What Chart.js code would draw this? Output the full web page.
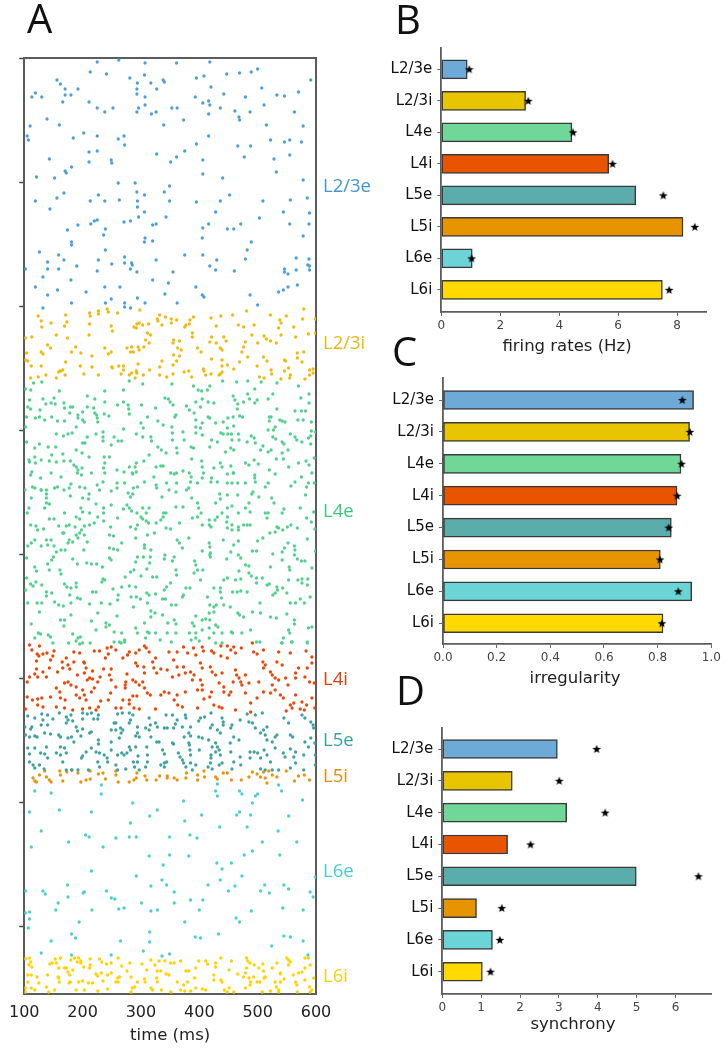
<!DOCTYPE html>
<html>
<head>
<meta charset="utf-8">
<title>Microcircuit activity</title>
<script src="https://cdn.jsdelivr.net/npm/chart.js@4/dist/chart.umd.js"></script>
<style>
  html, body { margin: 0; padding: 0; background: #fff; }
  #page { position: relative; width: 727px; height: 1050px; overflow: hidden; }
  canvas { position: absolute; }
  .letter { position: absolute; font: 40px "Open Sans", sans-serif; color: #111; line-height: 40px; }
  .xname { position: absolute; font: 16.5px "DejaVu Sans", sans-serif; color: #222; transform: translate(-50%, -50%); white-space: nowrap; }
</style>
</head>
<body>
<div id="page">
  <canvas id="raster"></canvas>
  <canvas id="rates"></canvas>
  <canvas id="irreg"></canvas>
  <canvas id="sync"></canvas>
  <div class="letter" style="left:27px;top:-2px">A</div>
  <div class="letter" style="left:395px;top:-1px">B</div>
  <div class="letter" style="left:392px;top:331px">C</div>
  <div class="letter" style="left:396px;top:670px">D</div>
  <div class="xname" style="left:567px;top:345px">firing rates (Hz)</div>
  <div class="xname" style="left:575px;top:677px">irregularity</div>
  <div class="xname" style="left:573px;top:1023px">synchrony</div>
</div>
<script>
const layers = ['L2/3e', 'L2/3i', 'L4e', 'L4i', 'L5e', 'L5i', 'L6e', 'L6i']

const firingRates = [0.88, 2.86, 4.43, 5.68, 6.6, 8.2, 1.05, 7.5]
const firingStars = [0.95, 2.95, 4.47, 5.81, 7.53, 8.6, 1.03, 7.73]
const irregularity = [0.934, 0.919, 0.887, 0.872, 0.851, 0.81, 0.927, 0.82]
const irregularityStars = [0.892, 0.92, 0.889, 0.873, 0.841, 0.809, 0.877, 0.816]
const synchrony = [2.96, 1.8, 3.2, 1.68, 4.99, 0.88, 1.29, 1.03]
const synchronyStars = [3.97, 3.01, 4.19, 2.27, 6.59, 1.53, 1.48, 1.24]

const firingTicks = [0, 2, 4, 6, 8]
const irregularityTicks = [0, 0.2, 0.4, 0.6, 0.8, 1]
const synchronyTicks = [0, 1, 2, 3, 4, 5, 6]
const timeTicks = [100, 200, 300, 400, 500, 600]
const rowTicks = [0, 124, 248, 372, 496, 620, 744, 868]
const layerLabelRows = [129, 286, 454, 622, 683, 719, 814, 919]

const dotColors = ['#4d9fd8', '#eebb0c', '#52d08e', '#e9480a', '#3fa2a2', '#e9940c', '#4ccfd3', '#ffd200']
const labelColors = ['#3f97d3', '#e8b90f', '#38c97f', '#e63d07', '#3a9fa2', '#e88a0c', '#48cdd2', '#f7cf12']
const barColors = ['#6daad8', '#e8c500', '#6fd798', '#e85400', '#5badab', '#e69500', '#6bd4d7', '#ffd900']

// raster: time (ms), row pairs, one list per population
const spikesL23e = [225,4, 262,2, 307,5, 361,5, 418,4, 213,14, 241,16, 447,16, 469,15, 489,14, 500,11, 306,17, 281,20, 395,20, 408,18, 156,22, 162,26, 294,25, 317,25, 338,22, 340,24, 591,22, 170,31, 192,31, 293,31, 327,31, 420,29, 507,30, 119,35, 113,39, 130,39, 170,37, 180,37, 293,36, 307,39, 393,39, 442,36, 479,39, 533,37, 546,38, 570,34, 166,44, 211,44, 307,47, 406,45, 416,43, 418,47, 511,47, 225,50, 252,50, 296,50, 353,50, 362,50, 436,50, 238,54, 293,54, 318,56, 326,54, 416,56, 461,53, 487,54, 563,54, 468,59, 469,62, 139,61, 373,62, 110,68, 160,67, 339,67, 515,67, 578,68, 202,75, 105,78, 107,82, 184,80, 225,78, 261,81, 271,78, 416,78, 522,82, 555,82, 546,84, 575,84, 272,87, 395,86, 466,88, 488,88, 211,94, 225,93, 375,93, 327,96, 555,97, 143,101, 249,102, 250,105, 211,104, 361,99, 351,104, 406,102, 477,99, 528,101, 181,109, 170,113, 172,115, 532,114, 406,116, 121,119, 152,120, 440,120, 261,125, 290,125, 578,122, 349,128, 293,134, 340,134, 168,135, 227,137, 306,137, 452,137, 156,140, 119,143, 213,143, 238,143, 263,142, 294,143, 349,143, 395,144, 436,143, 509,143, 556,142, 585,140, 294,149, 144,151, 306,154, 428,154, 544,154, 589,155, 296,159, 343,159, 503,160, 225,162, 220,163, 214,166, 192,167, 271,164, 282,163, 320,167, 326,166, 416,166, 471,166, 555,166, 588,166, 406,170, 239,171, 174,172, 448,171, 459,171, 236,177, 307,180, 306,184, 320,183, 405,180, 578,178, 181,184, 181,187, 489,184, 239,192, 126,194, 482,192, 375,197, 406,197, 159,197, 272,199, 479,201, 566,200, 588,201, 140,204, 168,202, 227,202, 326,202, 430,202, 272,205, 284,205, 285,207, 250,206, 190,208, 418,208, 586,207, 589,208, 102,211, 140,211, 159,211, 282,211, 428,212, 546,211, 566,212, 589,212, 225,213, 293,214, 355,214, 460,213, 546,214, 552,216, 132,219, 180,222, 320,222, 347,225, 119,229, 238,229, 264,229, 394,229, 552,229, 568,227, 157,232, 206,234, 544,232, 536,234, 140,237, 341,236, 405,237, 408,239, 487,237, 249,241, 294,240, 239,245, 307,245, 362,245, 181,245, 272,245, 500,247, 132,250, 272,249, 282,250]

const spikesL23i = [124,258, 129,263, 130,269, 146,265, 171,257, 173,264, 169,268, 212,255, 213,258, 212,266, 227,253, 227,256, 242,251, 244,254, 260,255, 298,252, 249,268, 251,273, 211,277, 155,277, 174,280, 113,279, 102,280, 293,266, 297,265, 288,269, 292,270, 303,267, 313,266, 311,275, 316,277, 308,282, 314,285, 328,261, 332,257, 329,263, 342,259, 336,267, 352,261, 361,262, 352,265, 390,259, 384,262, 383,266, 377,267, 375,269, 388,275, 388,279, 420,260, 437,258, 429,268, 457,257, 481,253, 467,267, 476,269, 494,267, 522,257, 549,258, 538,262, 540,265, 536,270, 562,269, 577,261, 579,251, 599,261, 540,277, 565,279, 587,276, 599,275, 490,277, 511,278, 515,281, 522,283, 532,285, 500,285, 479,284, 476,289, 473,294, 446,283, 442,279, 429,285, 418,284, 421,279, 436,290, 439,292, 397,290, 403,294, 366,283, 356,282, 355,285, 363,290, 369,292, 356,297, 366,298, 361,303, 336,303, 140,287, 145,290, 129,294, 132,296, 188,289, 181,294, 197,295, 238,290, 249,294, 244,296, 216,298, 276,290, 284,289, 295,289, 305,289, 297,292, 282,294, 287,294, 102,302, 104,295, 106,303, 129,308, 112,308, 171,304, 196,308, 216,309, 250,309, 251,310, 262,308, 270,308, 295,306, 332,309, 355,307, 421,301, 439,302, 448,307, 439,308, 469,304, 483,299, 510,299, 516,303, 499,308, 546,302, 548,303, 576,304, 568,295, 568,300, 579,294, 459,311, 407,311, 408,313, 382,313, 374,314, 355,316, 344,319, 315,312, 304,317, 292,313, 293,315, 284,315, 280,317, 290,320, 270,312, 266,316, 202,316, 227,317, 166,312, 162,313, 159,314, 155,320, 170,317, 137,317, 124,319, 111,320, 332,317, 387,319, 411,317, 420,316, 436,316, 439,314, 434,317, 523,312, 524,316, 546,313, 553,310, 556,317, 555,320, 540,321, 503,319, 511,320, 581,321, 589,317, 589,312, 595,311, 595,315]

const spikesL4e = [116,325, 130,324, 102,331, 111,332, 160,333, 238,333, 270,332, 280,323, 303,326, 353,326, 390,328, 398,332, 404,333, 414,332, 418,328, 440,323, 464,324, 483,323, 506,324, 495,331, 533,325, 570,328,
208,338, 221,341, 109,342, 106,349, 132,341, 151,340, 146,345, 153,346, 168,345, 169,350, 137,346, 127,352, 111,351, 179,349, 183,349, 208,349, 200,354, 192,357, 219,350, 221,355, 224,357, 260,347, 270,344, 278,347, 279,351, 280,356, 238,344, 301,347, 325,350, 341,340, 347,341, 350,344, 355,347, 378,348, 383,352, 394,344, 402,349, 405,341, 415,344, 425,345, 458,338, 461,342, 466,346, 465,351, 476,344, 483,336, 486,341, 499,342, 495,345, 518,341, 526,336, 533,351, 574,340, 588,336, 588,345, 582,353, 575,353, 564,353,
104,359, 102,369, 119,360, 126,359, 135,362, 147,359, 157,363, 178,355, 169,363, 192,360, 200,362, 189,369, 203,364, 237,356, 245,358, 225,360, 226,364, 270,371, 311,359, 300,365, 304,370, 329,363, 338,367, 358,359, 360,357, 353,369, 391,355, 394,362, 394,369, 402,370, 405,365, 415,359, 418,360, 428,365, 441,364, 449,360, 458,359, 469,358, 474,359, 459,368, 448,370, 520,359, 523,359, 520,363, 538,362, 542,363, 547,364, 530,369, 527,372, 518,372, 569,362, 578,362, 592,364, 592,373, 599,374,
104,384, 118,390, 126,386, 141,389, 154,389, 155,376, 167,378, 175,376, 182,375, 200,385, 204,385, 208,379, 223,376, 235,374, 235,379, 235,383, 254,379, 261,383, 267,383, 249,387, 292,376, 303,379, 317,379, 318,383, 329,389, 335,392, 343,395, 354,375, 354,382, 361,390, 362,395, 372,374, 374,382, 386,389, 390,390, 394,375, 405,377, 418,389, 421,382, 431,384, 437,375, 441,376, 449,376, 455,376, 467,376, 456,382, 454,390, 445,394, 459,392, 468,382, 482,384, 489,378, 494,380, 496,385, 509,388, 505,392, 518,394, 523,392, 526,379, 531,381, 542,384, 545,386, 556,376, 564,379, 567,382, 576,384, 587,380, 591,378, 591,386, 552,392, 542,395,
108,402, 109,404, 118,399, 129,402, 119,405, 143,403, 147,397, 155,404, 166,396, 168,403, 179,403, 189,392, 199,395, 211,399, 185,407, 189,409, 192,412, 199,410, 237,399, 246,399, 238,405, 236,410, 238,415, 259,412, 280,409, 292,405, 290,409, 285,415, 305,403, 314,397, 326,409, 334,408, 338,408, 351,415, 357,416, 361,415, 372,413, 383,415, 386,419, 387,401, 404,403, 405,409, 407,415, 425,410, 436,405, 439,409, 454,408, 458,415, 479,405, 485,407, 494,402, 501,406, 495,417, 495,420, 520,412, 530,416, 532,401, 544,401, 553,409, 570,405, 583,403, 588,407, 575,419, 597,400, 593,415, 113,414, 111,417, 128,420, 146,415, 163,419, 191,415, 198,417, 215,415, 271,414, 286,416, 292,414, 322,419, 405,420, 421,420, 448,416, 459,415,
114,429, 118,430, 129,432, 138,432, 152,430, 157,429, 180,426, 177,430, 195,429, 204,430, 225,427, 235,424, 259,430, 259,425, 272,425, 286,436, 287,430, 294,429, 306,424, 326,427, 327,430, 344,425, 361,425, 382,430, 385,424, 397,425, 420,424, 431,424, 448,425, 456,425, 466,425, 479,425, 496,424, 513,429, 518,425, 557,428, 564,424, 584,429, 587,425, 597,425, 101,432,
129,432, 138,436, 138,440, 179,438, 200,440, 211,436, 210,441, 112,440, 168,432, 229,432, 249,433, 278,435, 282,439, 336,439, 348,432, 360,434, 378,432, 387,440, 435,436, 436,441, 448,437, 466,437, 492,434, 502,439, 490,436, 524,440, 582,437,
138,445, 143,446, 135,450, 108,450, 105,455, 169,455, 197,450, 200,454, 223,446, 212,455, 236,450, 236,455, 249,447, 270,451, 276,447, 280,450, 284,453, 293,455, 303,450, 314,450, 309,455, 343,455, 360,449, 372,449, 397,445, 399,450, 403,455, 428,445, 448,450, 456,448, 485,445, 479,450, 467,455, 487,454, 528,445, 513,455, 518,455, 545,451, 542,455, 573,450, 596,454,
189,459, 195,461, 143,461, 151,461, 111,467, 120,468, 123,472, 133,471, 159,468, 172,468, 177,467, 168,475, 187,469, 203,468, 212,467, 220,465, 226,459, 236,463, 248,469, 260,460, 300,459, 303,461, 309,463, 313,465, 326,465, 334,462, 338,459, 339,455, 294,467, 282,469, 291,471, 343,470, 351,471, 366,465, 388,460, 397,459, 405,467, 417,462, 417,467, 420,469, 427,462, 431,459, 439,455, 448,459, 447,464, 456,467, 467,469, 476,467, 482,467, 487,467, 467,472, 456,472, 448,470, 516,460, 530,474, 536,470, 543,472, 551,469, 557,467, 568,470, 584,460, 592,464, 598,471,
198,472, 195,475, 189,477, 177,482, 183,484, 175,485, 166,475, 112,485, 106,488, 118,482, 129,488, 138,482, 146,482, 140,487, 151,488, 155,494, 163,492, 170,492, 192,480, 203,477, 208,484, 202,492, 246,477, 253,478, 246,490, 253,491, 260,492, 267,485, 291,480, 306,487, 311,477, 323,475, 306,490, 317,492, 362,482, 366,485, 371,490, 382,480, 417,485, 418,489, 405,493, 419,495, 441,482, 467,483, 500,483, 509,480, 521,475, 533,469, 552,485, 546,490, 542,494, 563,488, 564,492, 459,487, 454,494, 585,481, 599,493, 491,493, 498,493,
104,500, 150,499, 147,502, 140,506, 118,509, 121,513, 161,512, 163,516, 183,501, 191,506, 207,505, 215,506, 224,506, 246,500, 249,502, 234,509, 294,499, 291,504, 304,499, 315,505, 316,499, 341,497, 340,501, 357,499, 354,503, 392,503, 394,507, 397,512, 406,512, 418,497, 419,499, 447,501, 467,497, 471,500, 479,507, 485,508, 526,496, 542,502, 554,509, 555,512, 563,497, 568,501, 575,503, 581,503, 522,509, 593,510, 288,512, 310,511,
104,520, 111,526, 115,528, 120,524, 130,527, 143,512, 169,526, 173,529, 180,530, 189,525, 189,529, 235,521, 238,522, 233,524, 217,534, 223,534, 252,531, 273,519, 267,529, 280,528, 291,529, 282,514, 300,518, 320,519, 327,519, 351,525, 344,529, 340,532, 361,517, 377,530, 384,530, 402,522, 391,515, 425,530, 436,530, 442,522, 448,520, 462,522, 471,521, 468,513, 485,515, 489,518, 498,520, 498,525, 508,520, 516,527, 520,526, 533,529, 543,530, 553,522, 569,522, 576,521, 576,525, 586,521, 585,527, 102,532, 360,512,
138,534, 138,538, 147,535, 178,537, 191,540, 196,541, 106,545, 122,545, 130,545, 152,544, 159,547, 167,548, 180,545, 212,546, 232,545, 247,546, 261,537, 260,542, 283,539, 292,539, 287,549, 299,541, 310,535, 314,537, 311,545, 325,536, 337,541, 342,541, 352,547, 360,547, 371,539, 373,537, 414,539, 418,547, 425,549, 429,547, 436,534, 438,540, 457,534, 465,534, 471,533, 482,534, 453,549, 442,547, 504,545, 534,532, 530,535, 526,537, 573,541, 590,539, 556,545, 565,545, 580,545, 550,535,
126,554, 112,566, 162,562, 169,562, 168,568, 180,557, 215,563, 226,555, 240,565, 246,567, 259,558, 317,553, 324,555, 317,559, 337,557, 346,565, 291,570, 306,565, 357,562, 360,566, 394,558, 388,565, 391,568, 405,562, 411,561, 417,555, 418,562, 428,567, 432,569, 425,554, 466,555, 469,557, 476,559, 491,554, 505,555, 522,559, 532,560, 550,556, 563,562, 563,566, 593,569, 587,570,
124,575, 128,576, 118,580, 141,577, 145,579, 183,576, 196,579, 192,580, 189,583, 223,572, 240,569, 254,574, 267,575, 263,584, 272,582, 294,575, 311,574, 314,575, 308,580, 325,575, 333,582, 345,575, 352,584, 360,575, 383,575, 386,582, 394,580, 405,572, 417,570, 425,575, 417,580, 439,575, 455,574, 457,575, 488,572, 473,575, 553,572, 555,575, 544,580, 542,585, 559,584, 149,585, 195,586, 213,585, 254,584, 428,585, 439,585, 585,584, 394,575, 400,583,
266,585, 272,584, 176,585, 200,585, 498,584, 504,584, 541,585, 558,584, 585,585]

const spikesL4i = [109,587, 126,588, 113,592, 122,596, 125,598, 132,596, 139,595, 151,593, 149,598, 145,602, 121,603, 165,604, 172,600, 185,594, 195,595, 202,604, 220,593, 229,593, 242,590, 249,589, 257,592, 244,596, 239,600, 280,594, 277,597, 269,600, 291,595, 297,592, 306,588, 309,590, 314,594, 291,605, 294,608, 320,604, 325,600, 348,594, 362,594, 356,602, 373,589, 380,595, 390,590, 394,597, 405,589, 407,593, 421,593, 425,595, 437,588, 448,588, 437,598, 448,600, 454,592, 459,589, 462,595, 472,590, 491,585, 493,594, 499,596, 510,592, 509,604, 513,607, 533,604, 536,594, 542,607, 556,595, 583,593, 593,599,
121,611, 118,616, 123,619, 132,614, 138,619, 143,610, 109,619, 105,624, 157,614, 166,610, 175,607, 185,604, 178,611, 191,617, 203,605, 206,610, 203,615, 217,613, 189,629, 169,625, 175,624, 180,627, 212,620, 208,622, 217,621, 226,624, 230,619, 236,611, 249,611, 246,617, 276,616, 274,624, 273,627, 249,622, 286,622, 291,624, 297,627, 303,624, 306,615, 305,609, 322,610, 334,611, 327,615, 345,612, 354,619, 362,609, 365,617, 373,609, 376,615, 385,614, 391,617, 388,622, 402,605, 405,610, 402,622, 405,627, 419,609, 422,614, 428,617, 439,615, 462,612, 464,617, 468,620, 471,624, 473,627, 458,624, 434,625, 442,629, 442,634, 454,634, 479,617, 485,625, 502,624, 510,610, 522,614, 525,617, 530,620, 525,627, 536,622, 548,620, 552,627, 565,615, 565,620, 570,610, 585,610, 581,619, 593,605, 589,624, 597,625,
155,630, 161,634, 162,640, 170,642, 189,637, 195,640, 200,632, 203,637, 206,642, 215,634, 220,630, 231,643, 244,642, 248,635, 257,629, 269,642, 273,630, 280,642, 286,638, 293,638, 306,630, 311,635, 316,637, 334,637, 340,634, 348,635, 357,642, 362,637, 376,634, 397,632, 405,632, 421,634, 418,639, 408,641, 451,637, 479,635, 488,645, 499,640, 510,634, 522,635, 530,632, 539,637, 544,640, 565,637, 576,644, 593,640,
105,639, 114,642, 123,641, 130,640, 145,639, 155,649, 169,650, 183,652, 200,651, 212,650, 223,652, 227,649, 257,650, 266,650, 280,646, 288,650, 297,651, 325,651, 363,647, 371,649, 397,650, 425,647, 434,649, 439,650, 462,652, 488,654, 549,653, 559,650, 556,647, 562,645, 573,651, 580,652, 584,647, 598,650, 102,651, 123,647, 132,649]

const spikesL5e = [106,658, 118,660, 130,656, 132,662, 140,657, 149,661, 129,667, 140,667, 113,669, 111,671, 160,655, 172,659, 175,662, 172,665, 180,657, 183,663, 189,669, 191,673, 200,655, 208,656, 215,655, 200,661, 219,661, 227,657, 226,661, 200,671, 212,675, 260,656, 268,655, 280,655, 286,657, 282,662, 280,665, 257,665, 249,672, 257,672, 265,670, 269,672, 254,665, 266,675, 294,669, 294,675, 314,660, 316,667, 308,670, 314,672, 325,665, 328,669, 343,657, 354,657, 362,662, 359,666, 340,670, 345,670, 356,670, 376,657, 377,660, 371,669, 385,669, 382,675, 402,660, 409,659, 420,655, 399,663, 422,667, 419,670, 439,660, 441,664, 441,667, 431,672, 436,675, 454,670, 456,667, 470,662, 459,679, 482,656, 496,657, 508,655, 485,664, 491,665, 496,670, 510,672, 516,669, 545,660, 553,665, 576,657, 581,660, 591,664, 595,667, 596,670,
101,669, 102,677, 109,679, 118,678, 122,679, 135,675, 145,676, 159,677, 162,679, 175,680, 181,679, 185,684, 197,678, 215,674, 227,682, 227,686, 249,684, 263,680, 291,678, 297,679, 317,679, 327,684, 331,684, 354,685, 356,686, 374,679, 385,678, 382,685, 399,679, 405,680, 416,682, 428,685, 431,689, 434,692, 422,689, 453,685, 468,682, 505,675, 513,677, 516,682, 525,684, 530,679, 533,677, 556,677, 560,679, 581,684, 591,680, 598,685, 587,689,
106,690, 109,696, 118,690, 128,695, 135,696, 138,689, 140,700, 155,695, 162,689, 169,690, 172,695, 162,697, 198,700, 200,698, 206,694, 215,690, 223,694, 229,695, 237,697, 243,704, 249,692, 260,697, 271,697, 276,695, 282,692, 280,689, 267,695, 291,689, 295,698, 310,689, 311,697, 337,692, 340,696, 364,695, 367,699, 371,702, 383,687, 384,692, 385,697, 400,692, 420,697, 420,700, 428,694, 436,697, 454,694, 470,699, 487,694, 487,700, 494,694, 500,695, 505,700, 511,692, 516,697, 530,690, 544,695, 547,699, 556,691, 562,699, 565,694, 579,697, 599,697,
109,704, 115,707, 118,710, 126,707, 134,711, 166,704, 172,712, 181,712, 192,712, 210,712, 226,704, 229,709, 242,700, 257,707, 260,712, 274,711, 287,704, 294,704, 289,709, 297,712, 311,704, 308,709, 334,707, 340,705, 340,709, 344,704, 373,705, 377,709, 385,705, 388,712, 394,707, 415,709, 419,705, 422,711, 434,707, 439,705, 459,704, 456,711, 471,707, 505,711, 513,712, 522,704, 525,712, 536,712, 556,710, 565,705, 579,712, 599,707]

const spikesL5i = [115,720, 118,723, 121,724, 126,717, 135,713, 138,719, 143,722, 146,724, 161,713, 166,723, 162,717, 173,714, 182,712, 192,715, 197,724, 206,722, 213,721, 213,713, 227,716, 235,715, 239,721, 257,713, 257,717, 261,724, 280,724, 288,722, 293,715, 292,720, 307,718, 310,722, 326,722, 332,718, 345,718, 345,720, 357,720, 362,722, 378,715, 377,720, 397,717, 397,722, 408,713, 409,719, 428,719, 431,721, 441,715, 448,715, 455,722, 472,722, 485,719, 491,714, 499,716, 505,719, 513,720, 510,714, 516,725, 519,713, 525,717, 533,719, 549,713, 563,723, 570,718, 580,717, 589,722]

const spikesL6e = [232,727, 431,726, 536,727, 118,733, 146,735, 232,736, 428,733, 431,738, 469,733, 473,736, 500,736, 496,738, 541,733, 373,743, 286,745, 491,745, 577,742, 109,754, 160,752, 215,754, 328,752, 315,758, 404,757, 469,754, 464,757, 488,757, 553,758, 282,765, 375,763, 435,769, 482,769, 129,773, 205,777, 211,779, 280,779, 257,780, 292,779, 349,779, 384,777, 396,780, 535,773, 176,784, 508,784, 567,784, 112,789, 235,789, 491,793, 477,797, 314,798, 349,797, 382,798, 538,797, 430,805, 455,805, 338,807, 439,811, 215,813, 292,818, 473,818, 599,819, 336,822, 436,822, 317,828, 344,827, 415,827, 174,827, 461,828, 512,827, 545,827, 553,831, 102,833, 132,833, 136,836, 203,834, 201,835, 241,833, 357,834, 450,833, 505,833, 520,835, 590,834, 595,839, 175,839, 249,840, 255,841, 158,845, 154,852, 385,842, 406,842, 357,845, 543,850, 262,851, 271,850, 216,852, 301,845, 317,853, 328,852, 400,852, 578,852, 489,853, 109,854, 102,855, 109,861, 463,860, 469,864, 194,864, 107,870, 375,864, 315,874, 181,876, 188,880, 393,879, 402,880, 433,876, 545,878, 556,879, 146,883, 265,883, 315,884, 578,883, 524,888, 304,893, 129,895, 181,897, 249,897, 336,898, 349,896, 586,897]

const spikesL6i = [102,901, 109,900, 111,904, 108,907, 113,909, 144,906, 148,905, 153,901, 162,900, 155,905, 180,902, 186,900, 193,900, 197,903, 191,904, 197,905, 213,901, 229,901, 233,904, 213,907, 241,906, 249,905, 261,900, 267,908, 281,905, 302,906, 317,902, 324,907, 331,903, 341,903, 351,905, 357,905, 368,903, 399,903, 411,903, 414,906, 428,905, 437,900, 455,903, 481,900, 483,903, 487,905, 494,907, 509,906, 533,905, 550,900, 553,902, 556,904, 553,907, 581,900, 587,900, 590,907,
106,917, 112,917, 122,919, 140,917, 159,910, 169,910, 158,919, 172,910, 175,914, 178,917, 183,912, 202,909, 212,910, 223,916, 226,918, 232,915, 243,917, 249,915, 263,919, 276,913, 283,919, 310,912, 328,913, 334,913, 343,916, 348,917, 377,913, 382,913, 394,910, 425,917, 428,909, 451,912, 466,916, 481,910, 479,915, 476,919, 493,919, 502,910, 510,913, 513,919, 525,910, 539,915, 539,916, 561,917, 570,915, 576,914, 581,910,
106,924, 112,930, 102,930, 102,934, 118,932, 125,925, 138,929, 142,934, 152,932, 159,920, 160,924, 177,925, 179,924, 189,932, 193,924, 200,923, 203,932, 210,925, 217,925, 226,933, 235,923, 243,931, 257,924, 260,920, 261,924, 285,930, 289,929, 283,934, 294,924, 306,921, 307,924, 317,930, 320,932, 327,920, 328,924, 335,932, 351,934, 362,924, 368,932, 373,927, 375,933, 380,924, 385,933, 392,920, 394,930, 405,931, 411,932, 425,922, 437,922, 439,924, 443,932, 451,930, 448,934, 459,934, 479,930, 485,920, 488,924, 487,927, 499,924, 504,924, 511,920, 508,934, 522,933, 530,924, 532,929, 536,932, 545,921, 539,924, 536,934, 565,924, 567,927, 568,934, 581,922, 589,929, 590,934, 596,920, 593,932]

const allSpikes = [spikesL23e, spikesL23i, spikesL4e, spikesL4i, spikesL5e, spikesL5i, spikesL6e, spikesL6i]

const toPoints = (list) => {
  let pts = []
  for (let i = 0; i < list.length; i += 2) {
    pts.push({ x: list[i], y: list[i + 1] })
  }
  return pts
}

const axisGray = '#5c5c5c'
const dejavu = '"DejaVu Sans", sans-serif'

Chart.defaults.animation = false
Chart.defaults.responsive = false
Chart.defaults.plugins.legend.display = false
Chart.defaults.plugins.tooltip.enabled = false

// filled five point star, chart.js only has the line one
const makeStar = () => {
  let c = document.createElement('canvas')
  c.width = 10
  c.height = 10
  let g = c.getContext('2d')
  g.fillStyle = '#000'
  g.beginPath()
  for (let i = 0; i < 10; i++) {
    let r = i % 2 ? 1.9 : 4.6
    let a = -Math.PI / 2 + (i * Math.PI) / 5
    g.lineTo(5 + r * Math.cos(a), 5.3 + r * Math.sin(a))
  }
  g.closePath()
  g.fill()
  return c
}
const star = makeStar()

// panel A, raster
const rasterCanvas = document.getElementById('raster')
rasterCanvas.width = 390
rasterCanvas.height = 1050
rasterCanvas.style.left = '0px'
rasterCanvas.style.top = '0px'

new Chart(rasterCanvas, {
  type: 'scatter',
  data: {
    datasets: allSpikes.map((s, i) => ({
      data: toPoints(s),
      backgroundColor: dotColors[i],
      borderWidth: 0,
      pointRadius: 1.65
    }))
  },
  options: {
    layout: { padding: { top: 58, right: 20 } },
    scales: {
      x: {
        type: 'linear',
        min: 100,
        max: 600,
        afterBuildTicks: (s) => { s.ticks = timeTicks.map((v) => ({ value: v })) },
        afterFit: (s) => { s.height = 56 },
        grid: { display: false, drawTicks: false },
        border: { color: axisGray, width: 2 },
        ticks: { color: '#222', font: { family: dejavu, size: 16 }, padding: 9, maxRotation: 0 },
        title: { display: true, text: 'time (ms)', color: '#222', font: { family: dejavu, size: 16.5 }, padding: { top: 0, bottom: 4 } }
      },
      xTop: {
        type: 'linear',
        position: 'top',
        min: 100,
        max: 600,
        afterFit: (s) => { s.height = 0 },
        grid: { display: false, drawTicks: false },
        border: { color: axisGray, width: 2 },
        ticks: { display: false }
      },
      y: {
        type: 'linear',
        reverse: true,
        min: 0,
        max: 936,
        afterBuildTicks: (s) => { s.ticks = rowTicks.map((v) => ({ value: v })) },
        afterFit: (s) => { s.width = 23 },
        grid: { drawOnChartArea: false, drawTicks: true, tickLength: 5, tickColor: '#444', tickWidth: 1.5 },
        border: { color: axisGray, width: 2 },
        ticks: { display: false }
      },
      yLayers: {
        type: 'linear',
        position: 'right',
        reverse: true,
        min: 0,
        max: 936,
        afterBuildTicks: (s) => { s.ticks = layerLabelRows.map((v) => ({ value: v })) },
        afterFit: (s) => { s.width = 54 },
        grid: { display: false, drawTicks: false },
        border: { color: axisGray, width: 2 },
        ticks: {
          autoSkip: false,
          padding: 7,
          font: { family: '"Open Sans", sans-serif', size: 18.5 },
          color: (ctx) => labelColors[ctx.index],
          callback: (v, i) => layers[i]
        }
      }
    }
  }
})

// panels B, C, D share the same bar + star setup
const makeBars = (id, box, values, stars, maxX, xTicks, fmt, tickPad) => {
  let canvas = document.getElementById(id)
  canvas.width = box.w
  canvas.height = box.h
  canvas.style.left = box.left + 'px'
  canvas.style.top = box.top + 'px'
  new Chart(canvas, {
    data: {
      datasets: [
        {
          type: 'bar',
          order: 1,
          data: values.map((v, i) => ({ x: v, y: i })),
          backgroundColor: barColors,
          borderColor: '#3a3a3a',
          borderWidth: 1.5,
          borderSkipped: false,
          barThickness: 19
        },
        {
          type: 'scatter',
          order: 0,
          data: stars.map((v, i) => ({ x: v, y: i })),
          pointStyle: star,
          clip: false
        }
      ]
    },
    options: {
      indexAxis: 'y',
      layout: { padding: { top: box.plotTop, right: box.right } },
      scales: {
        x: {
          type: 'linear',
          min: 0,
          max: maxX,
          afterBuildTicks: (s) => { s.ticks = xTicks.map((v) => ({ value: v })) },
          afterFit: (s) => { s.height = box.h - box.plotTop - box.plotH },
          grid: { drawOnChartArea: false, tickLength: 4, tickColor: '#666' },
          border: { color: axisGray, width: 1.8 },
          ticks: { color: '#444', font: { family: dejavu, size: 12 }, padding: tickPad, maxRotation: 0, callback: fmt }
        },
        y: {
          type: 'linear',
          reverse: true,
          offset: false,
          min: box.minY,
          max: box.maxY,
          afterBuildTicks: (s) => { s.ticks = layers.map((_, i) => ({ value: i })) },
          afterFit: (s) => { s.width = box.plotLeft },
          grid: { offset: false, drawOnChartArea: false, tickLength: 4, tickColor: '#666' },
          border: { color: axisGray, width: 1.8 },
          ticks: { autoSkip: false, color: '#111', font: { family: dejavu, size: 15 }, padding: 5, callback: (v) => layers[v] }
        }
      }
    }
  })
}

makeBars('rates', { left: 370, top: 0, w: 357, h: 335, plotLeft: 71.3, plotTop: 48, plotH: 264, right: 21, minY: -0.676, maxY: 7.7 },
  firingRates, firingStars, 8.98, firingTicks, (v) => String(v), 3)
makeBars('irreg', { left: 370, top: 345, w: 357, h: 322, plotLeft: 73, plotTop: 33, plotH: 266, right: 15.7, minY: -0.69, maxY: 7.65 },
  irregularity, irregularityStars, 1, irregularityTicks, (v) => v.toFixed(1), 3)
makeBars('sync', { left: 370, top: 690, w: 357, h: 340, plotLeft: 72.3, plotTop: 37.7, plotH: 266.3, right: 15.7, minY: -0.67, maxY: 7.7 },
  synchrony, synchronyStars, 6.92, synchronyTicks, (v) => String(v), 3)
</script>
</body>
</html>
